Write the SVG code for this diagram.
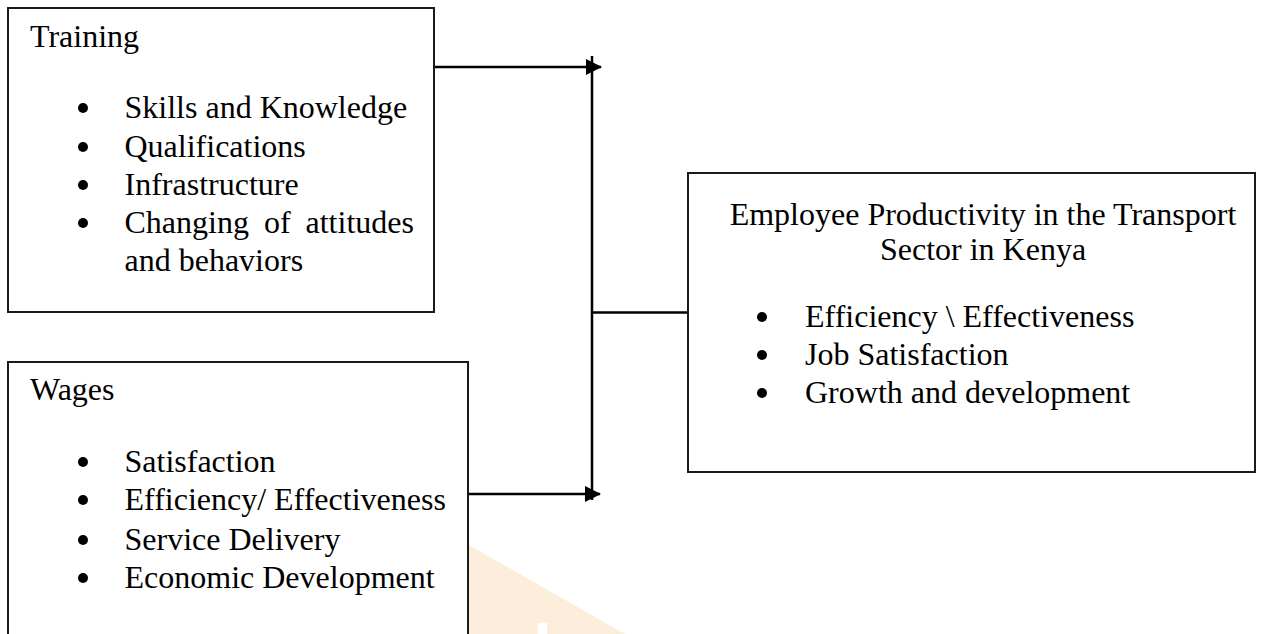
<svg xmlns="http://www.w3.org/2000/svg" width="1267" height="634" viewBox="0 0 1267 634">
<style>
  .box { fill: #ffffff; stroke: #1a1a1a; stroke-width: 2; }
  .t { font-family: "Liberation Serif", "Times New Roman", serif; font-size: 32px; fill: #000; }
  .b { fill: #000; }
  .ln { stroke: #000; stroke-width: 2.5; fill: none; }
</style>
<defs>
  <marker id="ah" markerWidth="16" markerHeight="16" refX="15" refY="8" orient="auto" markerUnits="userSpaceOnUse">
    <path d="M0,0 L16,8 L0,16 Z" fill="#000"/>
  </marker>
</defs>
<rect width="1267" height="634" fill="#ffffff"/>
<g id="watermark">
  <polygon points="469,545 625,634 469,634" fill="#FDEDDB"/>
  <rect x="538" y="623" width="9" height="11" fill="#ffffff"/>
</g>
<g id="connectors">
  <line class="ln" x1="592" y1="56" x2="592" y2="500"/>
  <line class="ln" x1="434" y1="67" x2="601" y2="67" marker-end="url(#ah)"/>
  <line class="ln" x1="468" y1="494" x2="600" y2="494" marker-end="url(#ah)"/>
  <line class="ln" x1="592" y1="312.5" x2="688" y2="312.5" stroke-width="2"/>
</g>
<g id="training">
  <rect class="box" x="8" y="8" width="426" height="304"/>
  <text class="t" x="30" y="47">Training</text>
  <circle class="b" cx="83" cy="108" r="5"/>
  <text class="t" x="124.5" y="118">Skills and Knowledge</text>
  <circle class="b" cx="83" cy="147" r="5"/>
  <text class="t" x="124.5" y="157">Qualifications</text>
  <circle class="b" cx="83" cy="185" r="5"/>
  <text class="t" x="124.5" y="195">Infrastructure</text>
  <circle class="b" cx="83" cy="223" r="5"/>
  <text class="t" y="233"><tspan x="124.5">Changing</tspan><tspan x="264">of</tspan><tspan x="305.5">attitudes</tspan></text>
  <text class="t" x="124.5" y="271">and behaviors</text>
</g>
<g id="wages">
  <rect class="box" x="8" y="362" width="460" height="290"/>
  <text class="t" x="30" y="400">Wages</text>
  <circle class="b" cx="83" cy="462" r="5"/>
  <text class="t" x="124.5" y="472">Satisfaction</text>
  <circle class="b" cx="83" cy="500" r="5"/>
  <text class="t" x="124.5" y="510">Efficiency/ Effectiveness</text>
  <circle class="b" cx="83" cy="540" r="5"/>
  <text class="t" x="124.5" y="550">Service Delivery</text>
  <circle class="b" cx="83" cy="578" r="5"/>
  <text class="t" x="124.5" y="588">Economic Development</text>
</g>
<g id="productivity">
  <rect class="box" x="688" y="173" width="567" height="299"/>
  <text class="t" x="983" y="225" text-anchor="middle">Employee Productivity in the Transport</text>
  <text class="t" x="983" y="260" text-anchor="middle">Sector in Kenya</text>
  <circle class="b" cx="762" cy="317" r="5"/>
  <text class="t" x="805" y="327">Efficiency \ Effectiveness</text>
  <circle class="b" cx="762" cy="355" r="5"/>
  <text class="t" x="805" y="365">Job Satisfaction</text>
  <circle class="b" cx="762" cy="393" r="5"/>
  <text class="t" x="805" y="403">Growth and development</text>
</g>
</svg>
